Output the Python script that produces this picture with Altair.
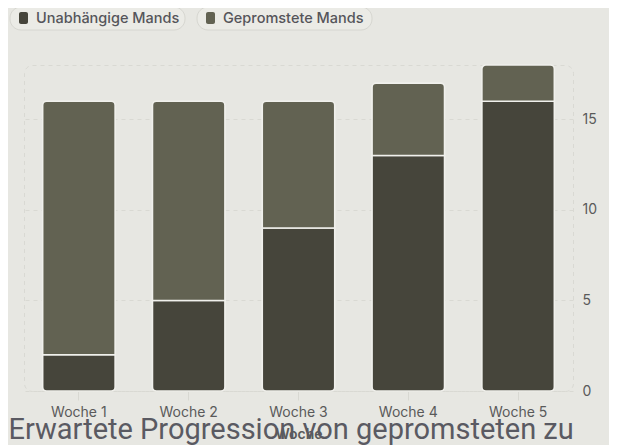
import altair as alt
import pandas as pd

weeks = ["Woche 1", "Woche 2", "Woche 3", "Woche 4", "Woche 5"]
series = ["Unabhängige Mands", "Gepromstete Mands"]
unabhaengig = [2, 5, 9, 13, 16]
gepromstet = [14, 11, 7, 4, 2]
y_ticks = [0, 5, 10, 15]
colors = ["#46453b", "#626252"]
title_lines = ["Erwartete Progression von gepromsteten zu", "unabhängigen Mands"]

df = pd.DataFrame({"week": weeks, "unab": unabhaengig, "prom": gepromstet})
legend_df = pd.DataFrame({"series": series})

BG = "#e7e7e2"
FONT = "Inter"

x_enc = alt.X(
    "week:N",
    sort=weeks,
    title="Woche",
    scale=alt.Scale(paddingInner=0.34, paddingOuter=0.17),
    axis=alt.Axis(
        labelAngle=0, domain=False, ticks=True, tickColor="#d8d8d2", tickSize=9,
        labelPadding=5, labelFont=FONT, labelFontSize=14, labelColor="#5a5a5a",
        titleFont=FONT, titleFontSize=14, titleFontWeight=600, titleColor="#5a5a5a",
        titlePadding=8, grid=False,
    ),
)
y_scale = alt.Scale(domain=[0, 18], nice=False)
y_axis = alt.Axis(
    orient="right", values=y_ticks, domain=False, ticks=False, labelPadding=9,
    labelFont=FONT, labelFontSize=14, labelColor="#5a5a5a", title=None,
    grid=True, gridColor="#d9d9d3", gridDash=[4, 4],
)
color_scale = alt.Scale(domain=series, range=colors)

base = alt.Chart(df)

bottom = base.transform_calculate(series=f"'{series[0]}'", zero="0").mark_bar(
    cornerRadiusBottomLeft=4, cornerRadiusBottomRight=4, stroke="#f0f0ec", strokeWidth=1.6
).encode(
    x=x_enc,
    y=alt.Y("unab:Q", scale=y_scale, axis=y_axis),
    y2=alt.Y2("zero:Q"),
    color=alt.Color("series:N", scale=color_scale, legend=None),
)

top = base.transform_calculate(series=f"'{series[1]}'", total="datum.unab + datum.prom").mark_bar(
    cornerRadiusTopLeft=4, cornerRadiusTopRight=4, stroke="#f0f0ec", strokeWidth=1.6
).encode(
    x=x_enc,
    y=alt.Y("total:Q", scale=y_scale, axis=y_axis),
    y2=alt.Y2("unab:Q"),
    color=alt.Color("series:N", scale=color_scale, legend=None),
)

# custom pill legend
pill_x = [(-14, 161), (173, 348)]
legend_layers = []
for i, name in enumerate(series):
    x0, x1 = pill_x[i]
    ldata = alt.Chart(legend_df).transform_filter(alt.datum.series == name)
    pill = ldata.mark_rect(
        cornerRadius=11, fill="#ebebe6", stroke="#d6d6d0", strokeWidth=1
    ).encode(x=alt.value(x0), x2=alt.value(x1), y=alt.value(-58), y2=alt.value(-35))
    sw = ldata.mark_rect(cornerRadius=2).encode(
        x=alt.value(x0 + 9), x2=alt.value(x0 + 18), y=alt.value(-53), y2=alt.value(-41),
        color=alt.Color("series:N", scale=color_scale, legend=None),
    )
    txt = ldata.mark_text(
        align="left", baseline="middle", font=FONT, fontSize=14.5, fontWeight=500, color="#55555a"
    ).encode(x=alt.value(x0 + 26), y=alt.value(-46.5), text="series:N")
    legend_layers += [pill, sw, txt]

chart = alt.layer(bottom, top, *legend_layers).properties(
    width=549,
    height=326,
    background=BG,
    autosize=alt.AutoSizeParams(type="none"),
    padding={"left": 16, "top": 57, "right": 36, "bottom": 60},
    title=alt.TitleParams(
        text=title_lines, orient="bottom", anchor="start", font="Roboto",
        fontSize=29, fontWeight="normal", color="#5a5a62", dx=-1, offset=-25, lineHeight=36,
    ),
).configure_view(
    stroke="#d9d9d3", strokeDash=[4, 4], cornerRadius=8, fill=BG
)

chart.save("out.html", embed_options={"renderer": "svg", "actions": False})
